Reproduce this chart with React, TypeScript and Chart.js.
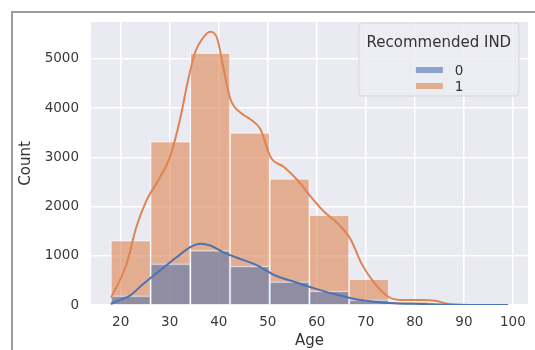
import React, { useEffect, useRef } from "react";
import { Chart, registerables } from "chart.js";

Chart.register(...registerables);

// Histogram bins (Age 18–99, 10 bins)
const binCenters = [22.05, 30.15, 38.25, 46.35, 54.45, 62.55, 70.65, 78.75, 86.85, 94.95];
const counts0 = [184, 834, 1107, 790, 473, 285, 105, 22, 8, 4];
const counts1 = [1310, 3320, 5120, 3500, 2565, 1826, 527, 70, 30, 10];

// KDE curves (scaled to counts)
const kdeAge0 = [18, 20, 21.8, 24.6, 28, 31.4, 34.2, 36.2, 38.3, 41, 44.4, 47.2, 49.9, 51.3, 55.4, 59.5, 63.6, 67.7, 71.8, 75.9, 81.4, 87, 93, 99];
const kde0 = [20, 110, 185, 425, 700, 970, 1175, 1245, 1210, 1070, 935, 834, 690, 610, 473, 338, 223, 122, 67, 34, 20, 5, 1, 0];
const kdeAge1 = [18, 18.4, 21.2, 23.2, 25.3, 27.7, 30.1, 32.1, 33.8, 35.2, 36.9, 38.3, 39.7, 41, 42.4, 44.4, 46.5, 48.5, 50.6, 53.3, 56.1, 58.8, 61.5, 64.3, 67, 69.1, 71.8, 74.6, 77.3, 81.4, 84.1, 86.9, 91, 99];
const kde1 = [150, 220, 834, 1585, 2130, 2540, 3020, 3770, 4590, 5140, 5440, 5550, 5410, 4795, 4180, 3910, 3770, 3570, 3000, 2805, 2535, 2197, 1893, 1657, 1318, 846, 440, 168, 101, 101, 87, 20, 0, 0];

const xTicks = [20, 30, 40, 50, 60, 70, 80, 90, 100];
const yTicks = [0, 1000, 2000, 3000, 4000, 5000];
const seriesLabels = ["0", "1"];
const legendTitle = "Recommended IND";
const xTitle = "Age";
const yTitle = "Count";

const BLUE = "#4c72b0";
const ORANGE = "#dd8452";
const FONT = "'DejaVu Sans', sans-serif";

const bgPlugin = {
  id: "plotBg",
  beforeDraw(chart: any) {
    const { ctx, chartArea } = chart;
    ctx.save();
    ctx.fillStyle = "#eaeaf2";
    ctx.fillRect(chartArea.left, chartArea.top, chartArea.right - chartArea.left, chartArea.bottom - chartArea.top);
    ctx.restore();
  },
};

const legendPlugin = {
  id: "innerLegend",
  afterDraw(chart: any) {
    const { ctx, chartArea } = chart;
    const w = 160;
    const h = 73;
    const right = chartArea.right - 9;
    const left = right - w;
    const top = chartArea.top + 1;
    ctx.save();
    ctx.beginPath();
    const r = 3;
    ctx.moveTo(left + r, top);
    ctx.lineTo(left + w - r, top);
    ctx.quadraticCurveTo(left + w, top, left + w, top + r);
    ctx.lineTo(left + w, top + h - r);
    ctx.quadraticCurveTo(left + w, top + h, left + w - r, top + h);
    ctx.lineTo(left + r, top + h);
    ctx.quadraticCurveTo(left, top + h, left, top + h - r);
    ctx.lineTo(left, top + r);
    ctx.quadraticCurveTo(left, top, left + r, top);
    ctx.closePath();
    ctx.fillStyle = "rgba(236,236,243,0.85)";
    ctx.fill();
    ctx.strokeStyle = "#d4d4da";
    ctx.lineWidth = 1;
    ctx.stroke();

    ctx.fillStyle = "#333";
    ctx.font = `15px ${FONT}`;
    ctx.textAlign = "center";
    ctx.textBaseline = "middle";
    ctx.fillText(legendTitle, left + w / 2, top + 20);

    const colors = ["rgba(76,114,176,0.6)", "rgba(221,132,82,0.6)"];
    const rows = [top + 47, top + 63];
    seriesLabels.forEach((lab, i) => {
      ctx.fillStyle = colors[i];
      ctx.fillRect(left + 57, rows[i] - 3, 27, 6);
      ctx.fillStyle = "#333";
      ctx.font = `13.5px ${FONT}`;
      ctx.textAlign = "left";
      ctx.fillText(lab, left + 96, rows[i] + 1);
    });
    ctx.restore();
  },
};

export default function App() {
  const ref = useRef<HTMLCanvasElement | null>(null);

  useEffect(() => {
    if (!ref.current) return;
    Chart.defaults.font.family = FONT;
    const chart = new Chart(ref.current, {
      type: "bar",
      data: {
        datasets: [
          {
            type: "line",
            label: seriesLabels[0] + " kde",
            data: kdeAge0.map((a, i) => ({ x: a, y: kde0[i] })),
            borderColor: BLUE,
            borderWidth: 2,
            pointRadius: 0,
            cubicInterpolationMode: "monotone",
            fill: false,
            order: 0,
          } as any,
          {
            type: "line",
            label: seriesLabels[1] + " kde",
            data: kdeAge1.map((a, i) => ({ x: a, y: kde1[i] })),
            borderColor: ORANGE,
            borderWidth: 2,
            pointRadius: 0,
            cubicInterpolationMode: "monotone",
            fill: false,
            order: 1,
          } as any,
          {
            type: "bar",
            label: seriesLabels[0],
            data: binCenters.map((c, i) => ({ x: c, y: counts0[i] })),
            backgroundColor: "rgba(76,114,176,0.55)",
            borderColor: "rgba(255,255,255,0.75)",
            borderWidth: 1,
            barPercentage: 1,
            categoryPercentage: 1,
            grouped: false,
            order: 2,
          } as any,
          {
            type: "bar",
            label: seriesLabels[1],
            data: binCenters.map((c, i) => ({ x: c, y: counts1[i] })),
            backgroundColor: "rgba(221,132,82,0.6)",
            borderColor: "rgba(255,255,255,0.75)",
            borderWidth: 1,
            barPercentage: 1,
            categoryPercentage: 1,
            grouped: false,
            order: 3,
          } as any,
        ],
      },
      options: {
        animation: false,
        responsive: false,
        maintainAspectRatio: false,
        layout: { padding: { top: 22, right: 6, left: 0, bottom: 0 } },
        plugins: {
          legend: { display: false },
          tooltip: { enabled: false },
        },
        scales: {
          x: {
            type: "linear",
            offset: false,
            min: 13.95,
            max: 103.05,
            afterBuildTicks: (axis: any) => {
              axis.ticks = xTicks.map((v) => ({ value: v }));
            },
            afterFit: (axis: any) => {
              axis.height = 45;
            },
            ticks: {
              color: "#3a3a3a",
              font: { size: 13.5 },
              padding: 9,
              maxRotation: 0,
              callback: (v: any) => String(v),
            },
            grid: { color: "#ffffff", lineWidth: 1.5, drawTicks: false, offset: false },
            border: { display: false },
            title: {
              display: true,
              text: xTitle,
              color: "#333",
              font: { size: 15 },
              padding: { top: 0, bottom: 0 },
            },
          },
          y: {
            type: "linear",
            min: 0,
            max: 5750,
            afterBuildTicks: (axis: any) => {
              axis.ticks = yTicks.map((v) => ({ value: v }));
            },
            afterFit: (axis: any) => {
              axis.width = 91;
            },
            ticks: {
              color: "#3a3a3a",
              font: { size: 13.5 },
              padding: 12,
              callback: (v: any) => String(v),
            },
            grid: { color: "#ffffff", lineWidth: 1.5, drawTicks: false },
            border: { display: false },
            title: {
              display: true,
              text: yTitle,
              color: "#333",
              font: { size: 15 },
              padding: { top: 17, bottom: 0 },
            },
          },
        },
      },
      plugins: [bgPlugin, legendPlugin],
    });
    return () => chart.destroy();
  }, []);

  return (
    <div style={{ position: "fixed", left: 0, top: 0, width: 535, height: 350, background: "#fff", overflow: "hidden" }}>
      <canvas ref={ref} width={535} height={350} style={{ position: "absolute", left: 0, top: 0, width: 535, height: 350 }} />
      <div
        style={{
          position: "absolute",
          left: 11,
          top: 11,
          width: 522,
          height: 345,
          borderLeft: "2px solid #9c9c9c",
          borderTop: "2px solid #9c9c9c",
          pointerEvents: "none",
        }}
      />
    </div>
  );
}
